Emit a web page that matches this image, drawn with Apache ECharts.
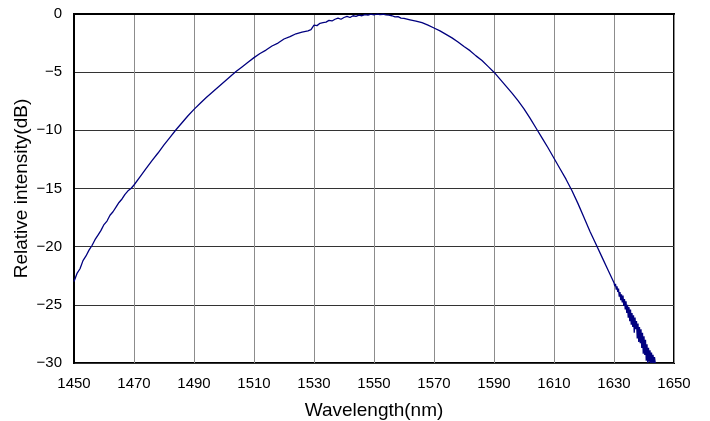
<!DOCTYPE html>
<html>
<head>
<meta charset="utf-8">
<script src="https://cdn.jsdelivr.net/npm/echarts@6/dist/echarts.min.js"></script>
<style>
  html, body { margin: 0; padding: 0; background: #fff; }
  #chart { width: 710px; height: 421px; }
</style>
</head>
<body>
<div id="chart"></div>
<script>
  // wavelength (nm)
  var wavelength = [
    1450, 1451, 1452, 1453, 1454, 1455, 1456, 1457, 1458, 1459,
    1460, 1461, 1462, 1463, 1464, 1465, 1466, 1467, 1468, 1469,
    1470, 1472, 1474, 1476, 1478, 1480, 1482, 1484, 1486, 1488,
    1490, 1492, 1494, 1496, 1498, 1500, 1502, 1504, 1506, 1508,
    1510, 1512, 1514, 1516, 1518, 1520, 1522, 1524, 1526, 1528,
    1529, 1530, 1531, 1532, 1533, 1534, 1535, 1536, 1537, 1538,
    1539, 1540, 1541, 1542, 1543, 1544, 1545, 1546, 1547, 1548,
    1549, 1550, 1551, 1552, 1553, 1554, 1555, 1556, 1557, 1558,
    1559, 1560, 1562, 1564, 1566, 1568, 1570, 1572, 1574, 1576,
    1578, 1580, 1582, 1584, 1586, 1588, 1590, 1592, 1594, 1596,
    1598, 1600, 1602, 1604, 1606, 1608, 1610, 1612, 1614, 1616,
    1618, 1620, 1622, 1624, 1626, 1628,
    1630, 1630.25, 1630.5, 1630.75, 1631, 1631.25, 1631.5, 1631.75,
    1632, 1632.25, 1632.5, 1632.75, 1633, 1633.25, 1633.5, 1633.75,
    1634, 1634.25, 1634.5, 1634.75, 1635, 1635.25, 1635.5, 1635.75,
    1636, 1636.25, 1636.5, 1636.75, 1637, 1637.25, 1637.5, 1637.75,
    1638, 1638.25, 1638.5, 1638.75, 1639, 1639.25, 1639.5, 1639.75,
    1640, 1640.25, 1640.5, 1640.75, 1641, 1641.25, 1641.5, 1641.75,
    1642, 1642.25, 1642.5, 1642.75, 1643, 1643.25, 1643.5, 1643.75
  ];
  // relative intensity (dB)
  var intensity = [
    -23.0, -22.3, -21.9, -21.2, -20.8, -20.3, -19.9, -19.4, -19.0, -18.6,
    -18.1, -17.8, -17.3, -17.0, -16.6, -16.2, -15.9, -15.5, -15.2, -15.0,
    -14.7, -14.0, -13.3, -12.6, -11.95, -11.25, -10.6, -9.95, -9.35, -8.75,
    -8.2, -7.7, -7.2, -6.75, -6.3, -5.85, -5.4, -4.95, -4.55, -4.15,
    -3.75, -3.4, -3.1, -2.75, -2.5, -2.15, -1.95, -1.7, -1.55, -1.45,
    -1.35, -0.95, -1.0, -0.8, -0.75, -0.7, -0.55, -0.6, -0.45, -0.35,
    -0.45, -0.3, -0.2, -0.3, -0.15, -0.2, -0.1, -0.15, -0.05, -0.1,
    -0.02, -0.08, 0, -0.05, -0.02, -0.08, -0.1, -0.15, -0.25, -0.22,
    -0.35, -0.38, -0.5, -0.62, -0.75, -0.95, -1.2, -1.45, -1.75, -2.05,
    -2.4, -2.8, -3.15, -3.6, -4.0, -4.5, -5.0, -5.6, -6.2, -6.8,
    -7.45, -8.15, -8.95, -9.8, -10.65, -11.5, -12.4, -13.3, -14.2, -15.2,
    -16.3, -17.5, -18.7, -19.8, -20.9, -22.0,
    -23.1, -23.4, -23.2, -23.7, -23.4, -23.9, -23.6, -24.3,
    -23.9, -24.6, -24.1, -24.8, -24.2, -25.1, -24.5, -25.4,
    -24.7, -25.7, -25.0, -26.1, -25.2, -26.4, -25.4, -26.7,
    -25.7, -26.9, -25.9, -27.4, -26.1, -27.1, -26.4, -27.9,
    -26.6, -28.2, -26.9, -28.3, -27.1, -28.7, -27.4, -29.2,
    -27.7, -29.3, -28.0, -29.8, -28.4, -30.0, -28.7, -29.9,
    -28.9, -30.0, -29.1, -30.0, -29.3, -30.0, -29.5, -30.0
  ];
  var xTicks = [1450, 1470, 1490, 1510, 1530, 1550, 1570, 1590, 1610, 1630, 1650];
  var yTicks = [-30, -25, -20, -15, -10, -5, 0];

  var points = [];
  for (var i = 0; i < wavelength.length; i++) {
    points.push([wavelength[i], intensity[i]]);
  }

  var chart = echarts.init(document.getElementById('chart'));
  var option = {
    backgroundColor: '#fff',
    animation: false,
    textStyle: { fontFamily: 'Liberation Sans, Arial, sans-serif' },
    grid: {
      left: 74,
      right: 36,
      top: 14,
      bottom: 58,
      outerBoundsMode: 'none',
      containLabel: false,
      show: true,
      borderColor: '#000',
      borderWidth: 2
    },
    xAxis: {
      type: 'value',
      min: xTicks[0],
      max: xTicks[xTicks.length - 1],
      interval: 20,
      name: 'Wavelength(nm)',
      nameLocation: 'middle',
      nameGap: 38,
      nameMoveOverlap: false,
      nameTextStyle: { color: '#000', fontSize: 19 },
      axisLine: { show: true, lineStyle: { color: '#000', width: 2 } },
      axisTick: { show: false },
      axisLabel: {
        color: '#000',
        fontSize: 15,
        margin: 13,
        formatter: function (v) { return String(v); }
      },
      splitLine: { show: true, lineStyle: { color: '#8c8c8c', width: 1 } }
    },
    yAxis: {
      type: 'value',
      min: yTicks[0],
      max: yTicks[yTicks.length - 1],
      interval: 5,
      name: 'Relative intensity(dB)',
      nameLocation: 'middle',
      nameGap: 43,
      nameMoveOverlap: false,
      nameTextStyle: { color: '#000', fontSize: 19 },
      axisLine: { show: true, lineStyle: { color: '#000', width: 2 } },
      axisTick: { show: false },
      axisLabel: {
        color: '#000',
        fontSize: 15,
        margin: 12,
        formatter: function (v) { return v < 0 ? '\u2212' + Math.abs(v) : String(v); }
      },
      splitLine: { show: true, lineStyle: { color: '#333', width: 1 } }
    },
    series: [{
      type: 'line',
      data: points,
      showSymbol: false,
      clip: true,
      lineStyle: { color: '#00007f', width: 1.3 },
      itemStyle: { color: '#00007f' }
    }]
  };
  chart.setOption(option);
</script>
</body>
</html>
